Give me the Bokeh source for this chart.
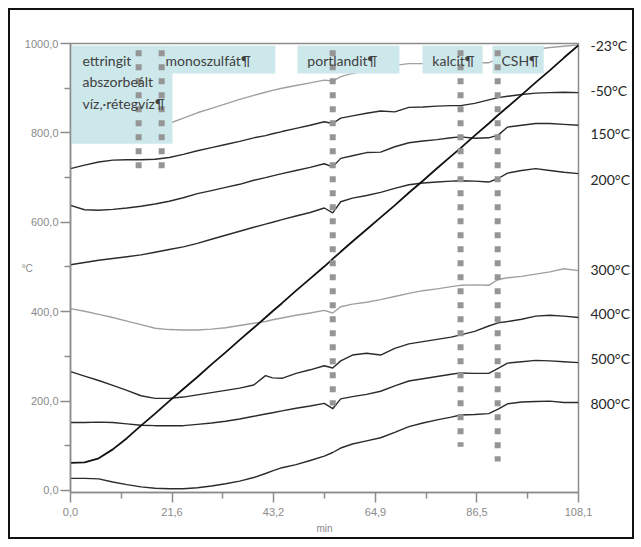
from bokeh.plotting import figure
from bokeh.models import Range1d, FixedTicker, CustomJSTickFormatter, Label, LinearAxis
from bokeh.embed import file_html
from bokeh.resources import INLINE

# ---------------- data ----------------
minutes = [0, 3, 6, 9, 12, 15, 18, 21, 24, 27, 30, 33, 36, 39, 41.5, 43, 45, 48, 51, 54,
           55.8, 57.5, 60, 63, 66, 69, 72, 75, 78, 81, 83, 86, 89, 91, 93, 96, 99, 102, 105, 108.1]

furnace = [62, 63, 72, 92, 117, 145, 172, 200, 227, 254, 282, 309, 337, 364, 387, 401, 419, 447, 474, 501,
           518, 534, 557, 584, 611, 638, 666, 693, 721, 748, 766, 794, 821, 840, 858, 885, 913, 940, 968, 996]

s_m23 = [800, 803, 806, 809, 812, 815, 818, 821, 833, 845, 855, 865, 875, 884, 891, 895, 900, 906, 912, 918,
         916, 926, 933, 940, 946, 951, 955, 955, 956, 956, 956, 957, 957, 965, 975, 982, 987, 991, 994, 997]

s_m50 = [720, 728, 735, 739, 740, 740, 741, 745, 752, 760, 767, 774, 781, 789, 794, 798, 803, 810, 817, 825,
         821, 833, 838, 844, 849, 847, 857, 858, 860, 861, 861, 866, 874, 879, 882, 886, 889, 890, 891, 890]

s_150 = [638, 628, 627, 629, 632, 636, 641, 647, 655, 664, 671, 678, 685, 694, 700, 704, 709, 716, 723, 731,
         724, 743, 749, 756, 757, 769, 778, 782, 785, 789, 791, 788, 789, 795, 813, 817, 821, 821, 819, 817]

s_200 = [505, 510, 515, 519, 523, 527, 533, 539, 545, 553, 562, 571, 580, 589, 596, 600, 606, 614, 622, 632,
         621, 646, 654, 660, 667, 676, 684, 688, 690, 692, 693, 692, 690, 698, 710, 716, 720, 716, 712, 709]

s_300 = [407, 401, 394, 387, 379, 371, 363, 360, 359, 359, 361, 364, 369, 374, 378, 382, 386, 392, 397, 403,
         397, 411, 417, 421, 427, 434, 441, 447, 451, 456, 459, 460, 459, 472, 476, 479, 484, 489, 496, 492]

s_400 = [266, 256, 246, 235, 224, 212, 206, 206, 209, 214, 219, 224, 229, 236, 257, 252, 251, 262, 270, 279,
         274, 290, 303, 307, 303, 318, 328, 333, 338, 343, 348, 356, 368, 375, 378, 383, 390, 392, 390, 387]

s_500 = [152, 152, 153, 152, 149, 146, 145, 145, 145, 148, 151, 155, 160, 166, 171, 174, 178, 184, 189, 195,
         183, 205, 210, 215, 222, 234, 245, 250, 255, 260, 263, 262, 262, 273, 285, 288, 291, 290, 288, 286]

s_800 = [27, 27, 26, 19, 13, 8, 5, 4, 4, 6, 10, 15, 21, 29, 38, 44, 51, 58, 67, 77,
         85, 95, 104, 111, 118, 130, 143, 151, 158, 164, 169, 170, 172, 182, 194, 198, 199, 200, 197, 197]

series_labels = ["-23°C", "-50°C", "150°C", "200°C", "300°C", "400°C", "500°C", "800°C"]
series_label_y = [995, 895, 799, 696, 494, 396, 295, 195]

phase_names = ["ettringit", "monoszulfát¶", "portlandit¶", "kalcit¶", "CSH¶"]
phase_x = [14.5, 19.4, 55.8, 83.0, 90.9]
phase_bottom = [711, 711, 190, 98, 65]

x_ticks = [0, 21.6, 43.2, 64.9, 86.5, 108.1]
x_minor = [10.8, 32.4, 54.05, 75.7, 97.3]
y_ticks = [0, 200, 400, 600, 800, 1000]
y_minor = [100, 300, 500, 700, 900]

# ---------------- figure ----------------
p = figure(width=641, height=547, x_range=Range1d(0, 108.1), y_range=Range1d(-4.5, 1000),
           output_backend="svg", toolbar_location=None,
           min_border_left=70, min_border_right=63, min_border_top=43, min_border_bottom=55)
p.stylesheets = [
    ":host { position: relative; }",
    ":host::after { content: ''; position: absolute; left: 8px; top: 8px; width: 622px; height: 527px;"
    " border: 2px solid #111; pointer-events: none; z-index: 100; }",
]
p.xgrid.visible = False
p.ygrid.visible = False
p.outline_line_color = "#8c8c8c"
p.outline_line_width = 1.5
p.background_fill_color = "white"
p.border_fill_color = "white"

fmt = CustomJSTickFormatter(code="return tick.toFixed(1).replace('.', ',');")
for ax, ticks, minor in ((p.xaxis[0], x_ticks, x_minor), (p.yaxis[0], y_ticks, y_minor)):
    ax.ticker = FixedTicker(ticks=ticks, minor_ticks=minor)
    ax.formatter = fmt
    ax.axis_line_color = "#8c8c8c"
    ax.axis_line_width = 1.5
    ax.major_tick_line_color = "#8c8c8c"
    ax.major_tick_line_width = 1.5
    ax.minor_tick_line_color = "#8c8c8c"
    ax.minor_tick_line_width = 1.5
    ax.major_tick_in = 0
    ax.minor_tick_in = 0
    ax.major_tick_out = 10
    ax.minor_tick_out = 6
    ax.major_label_text_font = "Liberation Sans"
    ax.major_label_text_font_size = "11px"
    ax.major_label_text_color = "#8a8a8a"
    ax.axis_label_text_font = "Liberation Sans"
    ax.axis_label_text_font_style = "normal"
    ax.axis_label_text_font_size = "10px"
    ax.axis_label_text_color = "#8a8a8a"
p.xaxis[0].major_label_standoff = 5
p.yaxis[0].major_label_standoff = 2
p.xaxis[0].axis_label = "min"
p.xaxis[0].axis_label_standoff = 4
p.yaxis[0].axis_label = "°C"
p.yaxis[0].axis_label_orientation = "horizontal"
p.yaxis[0].axis_label_standoff = -11

# series names at the right end
rax = LinearAxis(ticker=FixedTicker(ticks=series_label_y, minor_ticks=[]),
                 formatter=CustomJSTickFormatter(args=dict(vals=series_label_y, names=series_labels),
                                                 code="const i = vals.indexOf(tick); return i >= 0 ? names[i] : '';"))
rax.axis_line_color = None
rax.major_tick_line_color = None
rax.minor_tick_line_color = None
rax.major_tick_out = 0
rax.major_tick_in = 0
rax.major_label_standoff = 12
rax.major_label_text_font = "Lato"
rax.major_label_text_font_size = "14px"
rax.major_label_text_color = "#262626"
p.add_layout(rax, "right")

dark = "#2b2b2b"
light = "#a0a0a0"
for ys, col in ((s_m23, light), (s_m50, dark), (s_150, dark), (s_200, dark),
                (s_300, light), (s_400, dark), (s_500, dark), (s_800, dark)):
    p.line(minutes, ys, line_color=col, line_width=1.4)
p.line(minutes, furnace, line_color="#111111", line_width=1.8)

# highlighted label boxes
box_col = "#cde8eb"
p.quad(left=[0, 0, 48.3, 74.9, 89.8], right=[21.7, 43.6, 70.0, 87.7, 100.7],
       bottom=[776, 933, 933, 933, 933], top=[995, 995, 995, 995, 995],
       fill_color=box_col, line_color=None)

# dotted phase markers
p.segment(x0=phase_x, y0=[985] * len(phase_x), x1=phase_x, y1=phase_bottom,
          line_color="#959595", line_width=6, line_dash="6 8", line_cap="butt")

txt_col = "#404040"
def lab(x, y, text):
    p.add_layout(Label(x=x, y=y, text=text, text_font="Lato", text_font_size="14px",
                       text_color=txt_col, text_align="left", text_baseline="middle"))

lab(2.55, 963, phase_names[0])
lab(2.55, 915, "abszorbeált")
lab(2.55, 866, "víz,·rétegvíz¶")
lab(20.2, 963, phase_names[1])
lab(50.4, 963, phase_names[2])
lab(77.0, 963, phase_names[3])
lab(91.7, 963, phase_names[4])

open("out.html", "w").write(file_html(p, INLINE))
